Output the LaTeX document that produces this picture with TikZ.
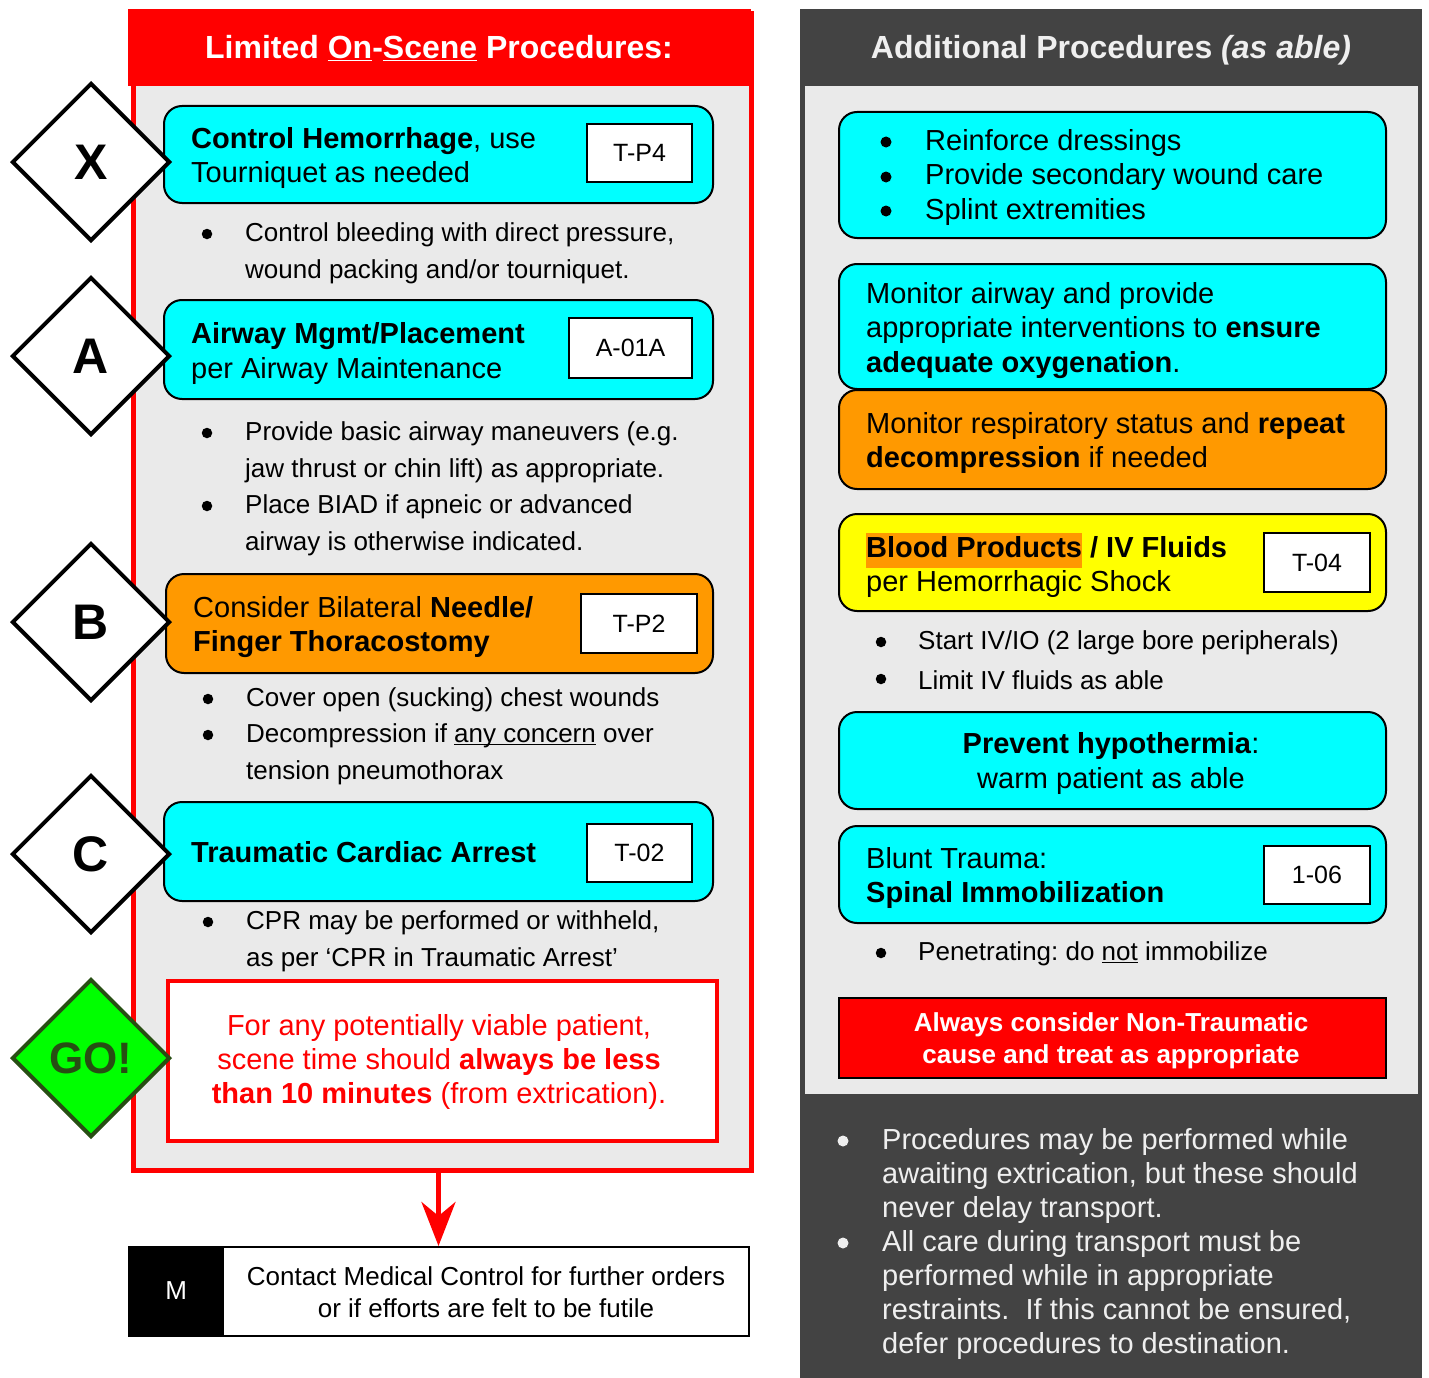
\documentclass[tikz,border=0pt]{standalone}
\usepackage{fontspec}
\setmainfont{Liberation Sans}
\usetikzlibrary{arrows.meta,shapes.geometric}
\definecolor{cyanb}{HTML}{00FFFF}
\definecolor{orangeb}{HTML}{FF9900}
\definecolor{yellowb}{HTML}{FFFF00}
\definecolor{panelgray}{HTML}{EAEAEA}
\definecolor{darkgrayb}{HTML}{434343}
\definecolor{gogreen}{HTML}{00FF00}
\definecolor{godark}{HTML}{274E13}
\definecolor{redb}{HTML}{FF0000}
\definecolor{offwhite}{HTML}{EFEFEF}
\setlength{\fboxsep}{0pt}
\frenchspacing
\newcommand\fsz[2]{\fontsize{#1}{#2}\selectfont}
\newcommand\ulsm[1]{\underline{\smash{#1}}}
\begin{document}
\begin{tikzpicture}[x=1pt,y=-1pt,
  procbox/.style={draw=black, line width=2pt, rounded corners=18pt, anchor=north west, inner sep=0, minimum width=547, minimum height=97},
  refbox/.style={draw=black, line width=2pt, fill=white, inner sep=0, anchor=north west, font=\fsz{25}{30}},
  boxtext/.style={font=\fsz{29}{34.5}, align=left, anchor=west, inner sep=0, yshift=-3pt},
  bultext/.style={font=\fsz{26}{37}, align=left, anchor=west, inner sep=0, yshift=-3pt},
  bulmark/.style={circle, fill=black, inner sep=0, minimum size=10.5pt},
  bigbul/.style={circle, fill=black, inner sep=0, minimum size=11pt},
  letterdia/.style={diamond, aspect=1, draw=black, line width=4pt, fill=white, minimum width=158, minimum height=158, inner sep=0, font=\fsz{50}{50}\bfseries},
]
\useasboundingbox (0,0) rectangle (1429,1378);

% ---------- left panel ----------
\node[draw=redb, line width=5pt, fill=panelgray, anchor=north west, inner sep=0, minimum width=618, minimum height=1156] (lp) at (130.5,11.5) {};
\fill[redb] (128,9) rectangle (751,86);
\node[font=\fsz{32}{38}\bfseries, text=white, yshift=-1pt] (lpt) at (439,47) {Limited \ulsm{On}-\ulsm{Scene} Procedures:};

% X
\node[procbox, fill=cyanb, minimum width=549] (bx) at (163,105) {};
\node[boxtext] (bxt) at (191,155) {\textbf{Control Hemorrhage}, use\\Tourniquet as needed};
\node[refbox, minimum width=105, minimum height=58] (bxr) at (586,123) {T-P4};
\node[bulmark] (bx1) at (207,234) {};
\node[bultext] (bx1t) at (245,250.5) {Control bleeding with direct pressure,\\wound packing and/or tourniquet.};

% A
\node[procbox, fill=cyanb, minimum width=549, minimum height=99] (ba) at (163,299) {};
\node[boxtext] (bat) at (191,350.5) {\textbf{Airway Mgmt/Placement}\\per Airway Maintenance};
\node[refbox, minimum width=123, minimum height=60] (bar) at (568,317) {A-01A};
\node[bulmark] (ba1) at (207,433) {};
\node[bultext] (ba1t) at (245,449) {Provide basic airway maneuvers (e.g.\\jaw thrust or chin lift) as appropriate.};
\node[bulmark] (ba2) at (207,506) {};
\node[bultext] (ba2t) at (245,522.5) {Place BIAD if apneic or advanced\\airway is otherwise indicated.};

% B
\node[procbox, fill=orangeb, minimum width=547, minimum height=99] (bb) at (165,573) {};
\node[boxtext] (bbt) at (193,624) {Consider Bilateral \textbf{Needle/}\\\textbf{Finger Thoracostomy}};
\node[refbox, minimum width=116, minimum height=59] (bbr) at (580,593) {T-P2};
\node[bulmark] (bb1) at (208,699) {};
\node[bultext] (bb1t) at (246,697) {Cover open (sucking) chest wounds};
\node[bulmark] (bb2) at (208,735) {};
\node[bultext] (bb2t) at (246,751.5) {Decompression if \ulsm{any concern} over\\tension pneumothorax};

% C
\node[procbox, fill=cyanb, minimum width=549, minimum height=99] (bc) at (163,801) {};
\node[boxtext, yshift=3pt] (bct) at (191,852) {\textbf{Traumatic Cardiac Arrest}};
\node[refbox, minimum width=105, minimum height=58] (bcr) at (586,823) {T-02};
\node[bulmark] (bc1) at (208,922) {};
\node[bultext] (bc1t) at (246,938.5) {CPR may be performed or withheld,\\as per ‘CPR in Traumatic Arrest’};

% GO box
\node[draw=redb, line width=4pt, fill=white, anchor=north west, inner sep=0, minimum width=549, minimum height=160] (gobox) at (166,979) {};
\node[font=\fsz{29}{34}, text=redb, align=center, inner sep=0, yshift=-3pt] (gotxt) at (439,1059) {For any potentially viable patient,\\scene time should \textbf{always be less}\\\textbf{than 10 minutes} (from extrication).};

% M box
\node[draw=black, line width=2pt, fill=white, anchor=north west, inner sep=0, minimum width=620, minimum height=89] (mbox) at (128,1246) {};
\node[fill=black, anchor=north west, inner sep=0, minimum width=96, minimum height=89] (mtag) at (128,1246) {};
\node[text=white, font=\fsz{26}{30}, inner sep=0] (mlet) at (mtag.center) {M};
\node[font=\fsz{26}{32}, align=center, inner sep=0] (mtxt) at (486,1292) {Contact Medical Control for further orders\\or if efforts are felt to be futile};

\draw[redb, line width=5pt, -{Stealth[length=44pt, width=34pt, inset=14pt]}] ([xshift=-3.5pt]lp.south) -- ([xshift=-3.5pt]lp.south |- mbox.north);

% ---------- right panel ----------
\node[fill=darkgrayb, anchor=north west, inner sep=0, minimum width=622, minimum height=1369] (rp) at (800,9) {};
\fill[panelgray] (805,86) rectangle (1418,1094);
\node[font=\fsz{32}{38}\bfseries, text=offwhite, yshift=-3pt] (rpt) at (1111,47) {Additional Procedures \textit{(as able)}};

% R1
\node[procbox, fill=cyanb, minimum height=126] (r1) at (838,111) {};
\node[bigbul] (r1a) at (886,142) {};
\node[bigbul] (r1b) at (886,177) {};
\node[bigbul] (r1c) at (886,211) {};
\node[boxtext] (r1t) at (925,174.5) {Reinforce dressings\\Provide secondary wound care\\Splint extremities};

% R2
\node[procbox, fill=cyanb, minimum height=125] (r2) at (838,263) {};
\node[boxtext] (r2t) at (866,327.5) {Monitor airway and provide\\appropriate interventions to \textbf{ensure}\\\textbf{adequate oxygenation}.};

% R3
\node[procbox, fill=orangeb, minimum height=99] (r3) at (838,389) {};
\node[boxtext] (r3t) at (866,440) {Monitor respiratory status and \textbf{repeat}\\\textbf{decompression} if needed};

% R4
\node[procbox, fill=yellowb, minimum height=97] (r4) at (838,513) {};
\node[boxtext] (r4t) at (866,562.5) {\colorbox{orangeb}{\strut\textbf{Blood Products}} \textbf{/ IV Fluids}\\per Hemorrhagic Shock};
\node[refbox, minimum width=106, minimum height=59] (r4r) at (1263,532) {T-04};
\node[bulmark] (r41) at (881,642) {};
\node[bultext] (r41t) at (918,640) {Start IV/IO (2 large bore peripherals)};
\node[bulmark] (r42) at (881,679) {};
\node[bultext] (r42t) at (918,677) {Limit IV fluids as able};

% R5
\node[procbox, fill=cyanb, minimum height=97] (r5) at (838,711) {};
\node[font=\fsz{29}{35}, align=center, inner sep=0, yshift=-3pt] (r5t) at (1111,760) {\textbf{Prevent hypothermia}:\\warm patient as able};

% R6
\node[procbox, fill=cyanb, minimum height=97] (r6) at (838,825) {};
\node[boxtext] (r6t) at (866,875) {Blunt Trauma:\\\textbf{Spinal Immobilization}};
\node[refbox, minimum width=106, minimum height=58] (r6r) at (1263,845) {1-06};
\node[bulmark] (r61) at (881,953) {};
\node[bultext] (r61t) at (918,951) {Penetrating: do \ulsm{not} immobilize};

% R7 red
\node[draw=black, line width=2pt, fill=redb, anchor=north west, inner sep=0, minimum width=547, minimum height=80] (r7) at (838,997) {};
\node[font=\fsz{26}{32}\bfseries, text=white, align=center, inner sep=0, yshift=-3pt] (r7t) at (1111,1038) {Always consider Non-Traumatic\\cause and treat as appropriate};

% dark notes
\node[bigbul, fill=offwhite] (n1) at (843,1141) {};
\node[boxtext, font=\fsz{29}{34}, text=offwhite] (n1t) at (882,1173) {Procedures may be performed while\\awaiting extrication, but these should\\never delay transport.};
\node[bigbul, fill=offwhite] (n2) at (843,1243) {};
\node[boxtext, font=\fsz{29}{34}, text=offwhite] (n2t) at (882,1292) {All care during transport must be\\performed while in appropriate\\restraints.\ \ If this cannot be ensured,\\defer procedures to destination.};

% ---------- diamonds ----------
\node[letterdia] (dx) at (91,162) {X};
\node[letterdia] (da) at (91,356) {A};
\node[letterdia] (db) at (91,622) {B};
\node[letterdia] (dc) at (91,854) {C};
\node[letterdia, fill=gogreen, draw=godark, text=godark, font=\fsz{44}{44}\bfseries] (dgo) at (91,1058) {GO!};
\end{tikzpicture}
\end{document}
